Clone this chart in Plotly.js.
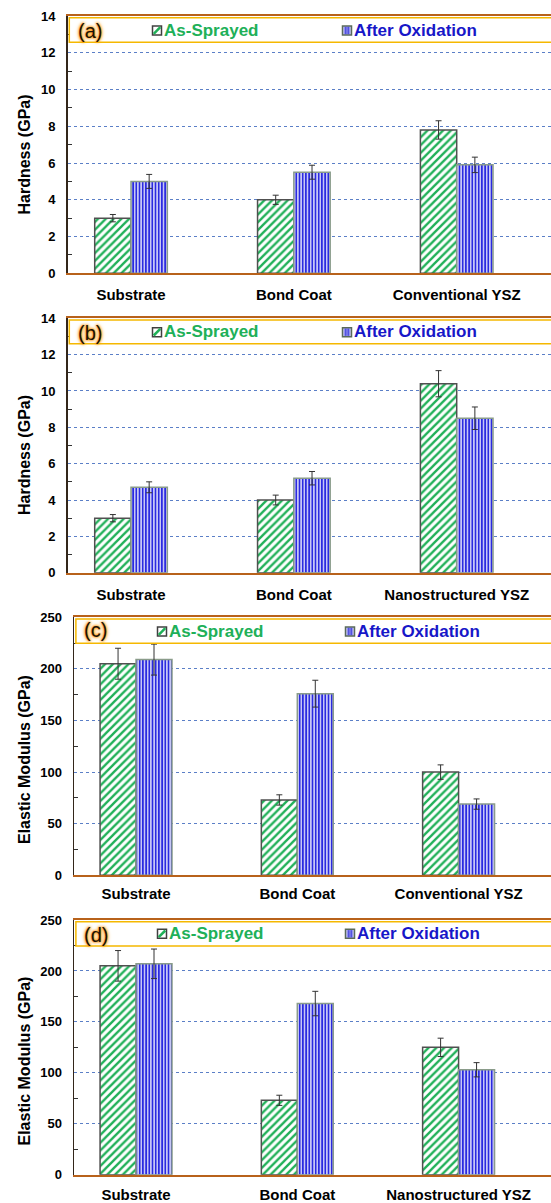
<!DOCTYPE html>
<html>
<head>
<meta charset="utf-8">
<script src="https://cdn.plot.ly/plotly-3.0.1.min.js"></script>
<style>html,body{margin:0;padding:0;background:#fff;}#chart{width:551px;height:1203px;}</style>
</head>
<body>
<div id="chart"></div>
<script>
// ---------------- data ----------------
const catsConv = ['Substrate', 'Bond Coat', 'Conventional YSZ'];
const catsNano = ['Substrate', 'Bond Coat', 'Nanostructured YSZ'];

const hardConvAS = [3.0, 4.0, 7.8];
const hardConvASerr = [0.2, 0.25, 0.5];
const hardConvAO = [5.0, 5.5, 5.9];
const hardConvAOerr = [0.38, 0.38, 0.42];

const hardNanoAS = [3.0, 4.0, 10.4];
const hardNanoASerr = [0.2, 0.27, 0.72];
const hardNanoAO = [4.7, 5.2, 8.5];
const hardNanoAOerr = [0.3, 0.37, 0.62];

const modConvAS = [205, 73, 100];
const modConvASerr = [15, 5, 7];
const modConvAO = [209, 176, 69];
const modConvAOerr = [15, 13, 5];

const modNanoAS = [205, 73, 125];
const modNanoASerr = [15, 5, 9];
const modNanoAO = [207, 168, 103];
const modNanoAOerr = [14.5, 12, 7];

const seriesNames = ['As-Sprayed', 'After Oxidation'];
const panelLabels = ['(a)', '(b)', '(c)', '(d)'];
const yTitles = ['Hardness (GPa)', 'Hardness (GPa)', 'Elastic Modulus (GPa)', 'Elastic Modulus (GPa)'];

// ---------------- styling / layout helpers ----------------
const W = 551, H = 1203;
const px = v => v / W;
const py = v => 1 - v / H;

const GREEN = '#20b058';
const BLUE = '#1717c8';
const FONT = 'Liberation Sans, Arial, sans-serif';

// panel geometry in pixels (left axis x, top y, bottom y, legend-box bottom y)
const panels = [
  {left: 67.5, top: 16,    bottom: 273.3,  boxBottom: 42.3,  ymax: 14,  dtick: 2,  minor: 1,  xr: [-0.39, 2.579], cats: catsConv,
   as: hardConvAS, asErr: hardConvASerr, ao: hardConvAO, aoErr: hardConvAOerr, so: 7,
   lab: [89.5, 31.5], sw1: 152.5, tx1: 162, sw2: 342.5, tx2: 352, ly: 30},
  {left: 67.5, top: 318.3, bottom: 572.7,  boxBottom: 343.7, ymax: 14,  dtick: 2,  minor: 1,  xr: [-0.39, 2.579], cats: catsNano,
   as: hardNanoAS, asErr: hardNanoASerr, ao: hardNanoAO, aoErr: hardNanoAOerr, so: 7,
   lab: [90, 333], sw1: 152.5, tx1: 162, sw2: 342.5, tx2: 352, ly: 331.7},
  {left: 74.1, top: 617.3, bottom: 875.3,  boxBottom: 643.3, ymax: 250, dtick: 50, minor: 25, xr: [-0.384, 2.573], cats: catsConv,
   as: modConvAS, asErr: modConvASerr, ao: modConvAO, aoErr: modConvAOerr, so: 4,
   lab: [95.5, 630.3], sw1: 157.5, tx1: 167, sw2: 345.5, tx2: 355, ly: 631},
  {left: 74.1, top: 920,   bottom: 1174.7, boxBottom: 946,   ymax: 250, dtick: 50, minor: 25, xr: [-0.384, 2.573], cats: catsNano,
   as: modNanoAS, asErr: modNanoASerr, ao: modNanoAO, aoErr: modNanoAOerr, so: 5,
   lab: [95.6, 935], sw1: 157.5, tx1: 167, sw2: 345.5, tx2: 355, ly: 933.3}
];
const yTitlePos = [[24, 154.5], [24, 455], [24, 760], [24, 1061.5]];

const traces = [];
const layout = {
  width: W, height: H,
  margin: {l: 0, r: 0, t: 0, b: 0},
  paper_bgcolor: '#ffffff', plot_bgcolor: '#ffffff',
  barmode: 'group', bargap: 0.554, bargroupgap: 0,
  showlegend: false,
  font: {family: FONT, color: '#000'},
  shapes: [], annotations: []
};

panels.forEach((p, i) => {
  const n = i + 1;
  const xa = 'x' + (n === 1 ? '' : n), ya = 'y' + (n === 1 ? '' : n);
  const xk = 'xaxis' + (n === 1 ? '' : n), yk = 'yaxis' + (n === 1 ? '' : n);

  traces.push({
    type: 'bar', name: seriesNames[0], x: p.cats, y: p.as, xaxis: xa, yaxis: ya,
    marker: {color: '#ffffff', line: {color: '#505050', width: 1.5},
             pattern: {shape: '/', fgcolor: GREEN, bgcolor: '#ffffff', size: 5.5, solidity: 0.42}},
    error_y: {type: 'data', array: p.asErr, visible: true, color: '#333333', thickness: 1, width: 3},
    hoverinfo: 'x+y'
  });
  traces.push({
    type: 'bar', name: seriesNames[1], x: p.cats, y: p.ao, xaxis: xa, yaxis: ya,
    marker: {color: '#c6c6f6', line: {color: '#8a9c8a', width: 1.5},
             pattern: {shape: '|', fgcolor: '#2a2ae0', bgcolor: '#c6c6f6', size: 3.2, solidity: 0.5}},
    error_y: {type: 'data', array: p.aoErr, visible: true, color: '#333333', thickness: 1, width: 3},
    hoverinfo: 'x+y'
  });

  layout[xk] = {
    domain: [px(p.left), 1], anchor: ya, type: 'category', range: p.xr,
    showgrid: false, zeroline: false, ticks: '',
    showline: true, linecolor: '#b8621b', linewidth: 2, mirror: true,
    tickfont: {family: FONT, size: 15, color: '#000', weight: 'bold'},
    ticklabelstandoff: p.so, fixedrange: true
  };
  layout[yk] = {
    domain: [py(p.bottom), py(p.top)], anchor: xa, range: [0, p.ymax],
    dtick: p.dtick, tick0: 0, ticks: '',
    showgrid: true, gridcolor: '#5b7fc7', gridwidth: 1, griddash: 'dot',
    zeroline: false, showline: true, linecolor: '#33261a', linewidth: 1.5,
    tickfont: {family: FONT, size: 13, color: '#000', weight: 'bold'},
    ticklabelstandoff: 8,
    minor: {dtick: p.minor, tick0: 0, ticks: 'inside', ticklen: 4, tickcolor: '#333', tickwidth: 1, showgrid: false},
    fixedrange: true
  };

  // legend box
  layout.shapes.push({type: 'rect', xref: 'paper', yref: 'paper', layer: 'above',
    x0: px(p.left + 1.8), x1: 1.02, y0: py(p.boxBottom), y1: py(p.top + 1.8),
    fillcolor: '#ffffff', line: {color: '#f5b800', width: 1.5}});

  // swatch 1 (As-Sprayed)
  const s = 9, sy0 = p.ly - s / 2 + 0.5, sy1 = p.ly + s / 2 + 0.5;
  layout.shapes.push({type: 'rect', xref: 'paper', yref: 'paper', layer: 'above',
    x0: px(p.sw1), x1: px(p.sw1 + s), y0: py(sy1), y1: py(sy0),
    fillcolor: '#ffffff', line: {color: '#404040', width: 1.5}});
  layout.shapes.push({type: 'line', xref: 'paper', yref: 'paper', layer: 'above',
    x0: px(p.sw1 + 1.2), x1: px(p.sw1 + s - 1.2), y0: py(sy1 - 1.2), y1: py(sy0 + 1.2),
    line: {color: GREEN, width: 2.5}});
  // swatch 2 (After Oxidation)
  layout.shapes.push({type: 'rect', xref: 'paper', yref: 'paper', layer: 'above',
    x0: px(p.sw2), x1: px(p.sw2 + s), y0: py(sy1), y1: py(sy0),
    fillcolor: '#c6c6f6', line: {color: '#5a6a5a', width: 1.5}});
  [2.7, 4.5, 6.3].forEach(d => {
    layout.shapes.push({type: 'line', xref: 'paper', yref: 'paper', layer: 'above',
      x0: px(p.sw2 + d), x1: px(p.sw2 + d), y0: py(sy1 - 0.8), y1: py(sy0 + 0.8),
      line: {color: '#2020d8', width: 1}});
  });

  // legend texts
  layout.annotations.push({xref: 'paper', yref: 'paper', x: px(p.tx1), y: py(p.ly), xanchor: 'left', yanchor: 'middle',
    text: seriesNames[0], showarrow: false, font: {family: FONT, size: 17, color: GREEN, weight: 'bold'}});
  layout.annotations.push({xref: 'paper', yref: 'paper', x: px(p.tx2), y: py(p.ly), xanchor: 'left', yanchor: 'middle',
    text: seriesNames[1], showarrow: false, font: {family: FONT, size: 17, color: BLUE, weight: 'bold'}});

  // panel label
  layout.annotations.push({xref: 'paper', yref: 'paper', x: px(p.lab[0]), y: py(p.lab[1]), xanchor: 'center', yanchor: 'middle',
    text: panelLabels[i], showarrow: false,
    font: {family: FONT, size: 20, color: '#1a1208', shadow: '0 0 2px #ff8c00, 0 0 3px #ff9a00, 0 0 4px #ffb040'}});

  // y title
  layout.annotations.push({xref: 'paper', yref: 'paper', x: px(yTitlePos[i][0]), y: py(yTitlePos[i][1]),
    xanchor: 'center', yanchor: 'middle', textangle: -90,
    text: yTitles[i], showarrow: false, font: {family: FONT, size: 16, color: '#000', weight: 'bold'}});
});

Plotly.newPlot('chart', traces, layout, {displayModeBar: false, staticPlot: true});
</script>
</body>
</html>
